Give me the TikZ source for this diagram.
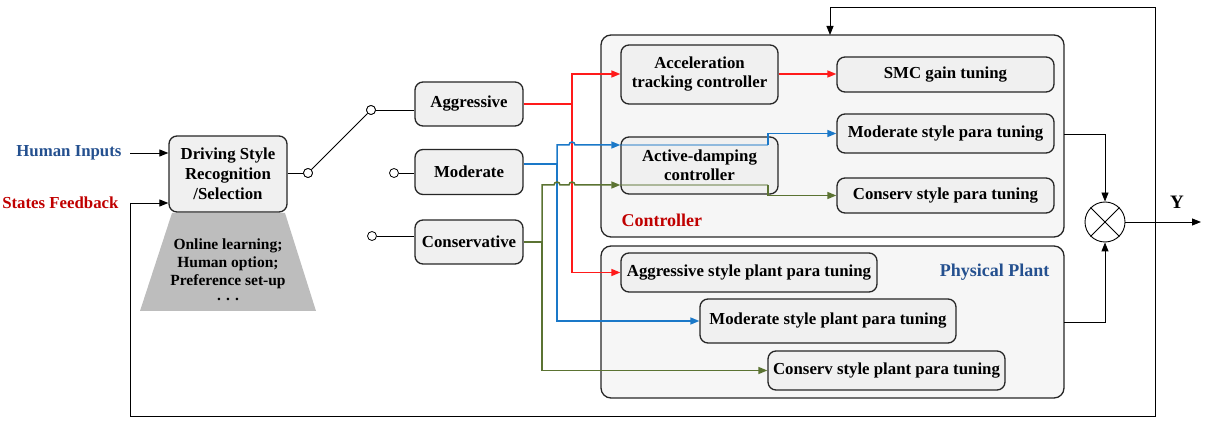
\documentclass[tikz,border=0pt]{standalone}
\usepackage{fontspec}
\setmainfont{Liberation Serif}
\usetikzlibrary{arrows.meta}
\definecolor{cred}{HTML}{FF1A1A}
\definecolor{cblue}{HTML}{1A78C8}
\definecolor{cgreen}{HTML}{5B7332}
\definecolor{tblue}{HTML}{24508F}
\definecolor{tred}{HTML}{C00000}
\definecolor{boxfill}{HTML}{F0F0F0}
\definecolor{bigfill}{HTML}{F6F6F6}
\begin{document}
\begin{tikzpicture}[x=1pt,y=-1pt,
  every node/.style={font=\fontsize{16.8}{19}\selectfont\bfseries},
  blk/.style={draw=black!85,line width=1.3pt,rounded corners=8pt,fill=boxfill,inner sep=0pt,align=center},
  big/.style={draw=black!85,line width=1.3pt,rounded corners=10pt,fill=bigfill},
  tip/.style={-{Triangle[length=9pt,width=7pt]}},
  sw/.style={circle,draw,fill=white,inner sep=0pt,minimum size=9pt,line width=0.8pt},
  bl/.style={line width=0.9pt},
  col/.style={line width=1.5pt}]
\useasboundingbox (0,0) rectangle (1218,427);
% big boxes
\draw[big] (601,35) rectangle (1064,237);
\draw[big] (601,246) rectangle (1064,398);
\node[text=tred,anchor=west,font=\fontsize{18}{20}\selectfont\bfseries] (ctl) at (618,220) {Controller};
\node[text=tblue,anchor=east,font=\fontsize{18}{20}\selectfont\bfseries] (pp) at (1053,272) {Physical Plant};
% trapezoid
\fill[black!26] (172,213) -- (285,213) -- (316,311) -- (140,311) -- cycle;
\node[align=center,font=\fontsize{15.5}{18}\selectfont\bfseries] (opt) at (228,270) {Online learning;\\Human option;\\Preference set-up\\[-3pt]. . .};
% left
\node[blk,minimum width=118pt,minimum height=76pt,font=\fontsize{16.8}{20}\selectfont\bfseries] (ds) at (228,174) {Driving Style\\Recognition\\/Selection};
\node[text=tblue,anchor=east] (hi) at (125,153) {Human Inputs};
\node[text=tred,anchor=east] (sf) at (122,203) {States Feedback};
\draw[bl,tip] (hi.east)+(5,0) -- (ds.west|-hi);
\coordinate (fbin) at (ds.west|-sf);
% style boxes
\node[blk,minimum width=108pt,minimum height=44pt] (ag) at (469,104) {Aggressive};
\node[blk,minimum width=108pt,minimum height=45pt] (mo) at (469,172) {Moderate};
\node[blk,minimum width=108pt,minimum height=44pt] (co) at (469,242) {Conservative};
% switch
\node[sw] (s0) at (308,173) {};
\node[sw] (s1) at (371,110) {};
\node[sw] (s2) at (394,173) {};
\node[sw] (s3) at (372,236) {};
\draw[bl] (ds.east|-s0) -- (s0.west);
\draw[bl] (s0) -- (s1);
\draw[bl] (s1.east) -- (ag.west|-s1);
\draw[bl] (s2.east) -- (mo.west|-s2);
\draw[bl] (s3.east) -- (co.west|-s3);
\node[sw] at (308,173) {};
\node[sw] at (371,110) {};
% controller blocks
\node[blk,minimum width=157pt,minimum height=59pt] (acc) at (699.5,74.5) {Acceleration\\tracking controller};
\node[blk,minimum width=157pt,minimum height=57pt] (ad) at (699.5,165.5) {Active-damping\\controller};
\node[blk,minimum width=217pt,minimum height=35pt] (smc) at (945.5,74.5) {SMC gain tuning};
\node[blk,minimum width=217pt,minimum height=39pt] (mst) at (945.5,133.5) {Moderate style para tuning};
\node[blk,minimum width=217pt,minimum height=35pt] (cst) at (945.5,195.5) {Conserv style para tuning};
% plant blocks
\node[blk,minimum width=256pt,minimum height=39pt] (agp) at (749,272.5) {Aggressive style plant para tuning};
\node[blk,minimum width=256pt,minimum height=44pt] (mop) at (828,321) {Moderate style plant para tuning};
\node[blk,minimum width=237pt,minimum height=39pt] (cop) at (886.5,370.5) {Conserv style plant para tuning};
% multiplier
\node[circle,draw,line width=0.9pt,minimum size=40pt,inner sep=0pt] (mul) at (1105,222) {};
\draw[bl] (mul.45) -- (mul.225) (mul.135) -- (mul.315);
\node[font=\fontsize{19}{20}\selectfont\bfseries] (y) at (1177,202) {Y};
\coordinate (yout) at (1201,222);
\draw[bl,tip] (mul.east) -- (yout);
\draw[bl,tip] (1064,134) -| (mul.north);
\draw[bl,tip] (1064,322) -| (mul.south);
% feedback loop
\coordinate (ctop) at (830,35);
\draw[bl,tip] (fbin)++(-38,0) coordinate (fb0) -- (fbin);
\draw[bl,tip] (fb0) |- (1155,416) |- (830,7) -- (ctop);
% red
\coordinate (rj) at (572,104);
\draw[col,cred] (ag.east) -- (rj);
\draw[col,cred,tip] (rj) |- (acc.west|-0,74);
\draw[col,cred,tip] (rj) |- (agp.west);
\draw[col,cred,tip] (acc.east|-0,74) -- (smc.west|-0,74);
% blue
\coordinate (bj) at (557,164);
\draw[col,cblue] (mo.east|-bj) -- (bj);
\draw[col,cblue,tip] (bj) -- (557,145) -- (569,145) arc[start angle=180,end angle=360,radius=3] -- (ad.west|-0,145);
\draw[col,cblue,tip] (bj) |- (mop.west);
\draw[col,cblue,opacity=0.45] (ad.west|-0,145) -- (768,145);
\draw[col,cblue,tip] (768,145) |- (mst.west);
% green
\coordinate (gj) at (542,242);
\draw[col,cgreen] (co.east) -- (gj);
\draw[col,cgreen,tip] (gj) -- (542,185) -- (554,185) arc[start angle=180,end angle=360,radius=3] -- (569,185) arc[start angle=180,end angle=360,radius=3] -- (ad.west|-0,185);
\draw[col,cgreen,tip] (gj) |- (cop.west);
\draw[col,cgreen,opacity=0.45] (ad.west|-0,185) -- (768,185);
\draw[col,cgreen,tip] (768,185) |- (cst.west);
\end{tikzpicture}
\end{document}
